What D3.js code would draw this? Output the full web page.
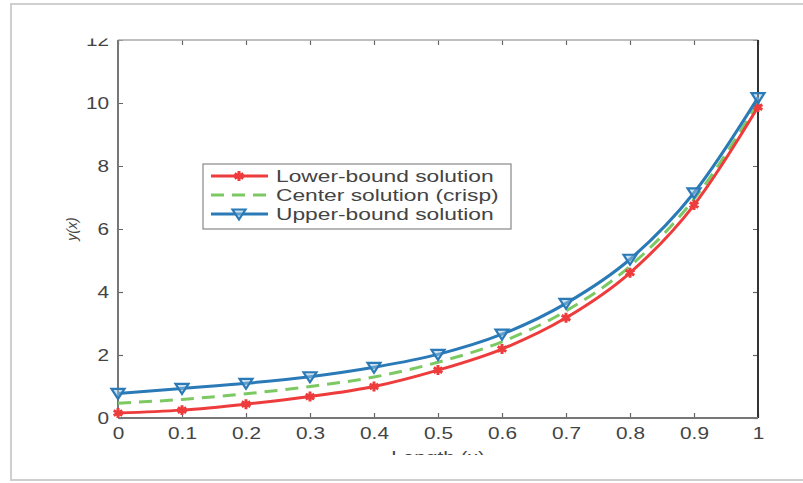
<!DOCTYPE html>
<html lang="en">
<head>
  <meta charset="UTF-8">
  <title>Lower, center and upper bound solutions</title>
  <script src="https://d3js.org/d3.v7.min.js"></script>
  <style>
    body { margin: 0; background: #fff; }
    svg { display: block; font-family: "Liberation Sans", Arial, sans-serif; }
  </style>
</head>
<body>
<svg width="803" height="483"></svg>
<script>
  // Données
  const xValues = [0, 0.1, 0.2, 0.3, 0.4, 0.5, 0.6, 0.7, 0.8, 0.9, 1];
  const lowerBound = [0.16, 0.25, 0.44, 0.68, 1.0, 1.52, 2.19, 3.18, 4.61, 6.76, 9.87];
  const center = [0.47, 0.59, 0.77, 1.0, 1.3, 1.77, 2.42, 3.4, 4.82, 6.95, 10.0];
  const upperBound = [0.78, 0.94, 1.1, 1.31, 1.61, 2.02, 2.66, 3.64, 5.04, 7.15, 10.17];
  const xTicks = [0, 0.1, 0.2, 0.3, 0.4, 0.5, 0.6, 0.7, 0.8, 0.9, 1];
  const yTicks = [0, 2, 4, 6, 8, 10, 12];
  const seriesNames = ["Lower-bound solution", "Center solution (crisp)", "Upper-bound solution"];

  const red = "#ee3b3b", green = "#7cc964", blue = "#2a7ab8", textColor = "#444";
  const stretch = 1.3;   // la figure d'origine est étirée horizontalement

  const svg = d3.select("svg");

  // cadre extérieur
  svg.append("rect")
    .attr("x", 11).attr("y", 4).attr("width", 800).attr("height", 476)
    .attr("fill", "none").attr("stroke", "#cfcfcf").attr("stroke-width", 2);

  svg.append("clipPath").attr("id", "crop")
    .append("rect").attr("x", 12).attr("y", 38.5).attr("width", 791).attr("height", 416.5);

  const root = svg.append("g").attr("clip-path", "url(#crop)");

  const margin = {left: 118, top: 40, right: 758, bottom: 418};
  const x = d3.scaleLinear().domain([0, 1]).range([margin.left, margin.right]);
  const y = d3.scaleLinear().domain([0, 12]).range([margin.bottom, margin.top]);

  // Axes
  const xAxis = root.append("g")
    .attr("transform", `translate(0,${margin.bottom})`)
    .call(d3.axisBottom(x).tickValues(xTicks).tickFormat(d3.format("~g")).tickSize(-5).tickPadding(10));
  const yAxis = root.append("g")
    .attr("transform", `translate(${margin.left},0)`)
    .call(d3.axisLeft(y).tickValues(yTicks).tickSize(-5).tickPadding(9));
  const xTop = root.append("g")
    .attr("transform", `translate(0,${margin.top})`)
    .call(d3.axisTop(x).tickValues(xTicks).tickSize(-5).tickFormat(""));
  const yRight = root.append("g")
    .attr("transform", `translate(${margin.right},0)`)
    .call(d3.axisRight(y).tickValues(yTicks).tickSize(-5).tickFormat(""));

  [xAxis, yAxis, xTop, yRight].forEach(a => {
    a.select(".domain").remove();
    a.selectAll("line").attr("stroke", "#666").attr("stroke-width", 1.2);
  });
  xAxis.selectAll("text")
    .attr("fill", textColor).style("font-size", "16px")
    .attr("transform", `scale(${stretch},1)`);
  yAxis.selectAll("text")
    .attr("fill", textColor).style("font-size", "16px")
    .attr("x", -9 / stretch)
    .attr("transform", `scale(${stretch},1)`);

  // boîte
  root.append("line").attr("x1", margin.left).attr("x2", margin.right)
    .attr("y1", margin.top).attr("y2", margin.top)
    .attr("stroke", "#aaa").attr("stroke-width", 1.5);
  root.append("line").attr("x1", margin.right).attr("x2", margin.right)
    .attr("y1", margin.top).attr("y2", margin.bottom)
    .attr("stroke", "#333").attr("stroke-width", 2);
  root.append("line").attr("x1", margin.left).attr("x2", margin.left)
    .attr("y1", margin.top).attr("y2", margin.bottom)
    .attr("stroke", "#777").attr("stroke-width", 2);
  root.append("line").attr("x1", margin.left).attr("x2", margin.right)
    .attr("y1", margin.bottom).attr("y2", margin.bottom)
    .attr("stroke", "#777").attr("stroke-width", 2);

  // Libellés des axes
  root.append("text")
    .attr("transform", `translate(${(margin.left + margin.right) / 2},463) scale(${stretch},1)`)
    .attr("text-anchor", "middle").attr("fill", textColor).style("font-size", "16px")
    .text("Length (x)");
  root.append("text")
    .attr("transform", "translate(77,229) rotate(-90)")
    .attr("text-anchor", "middle").attr("fill", textColor)
    .style("font-size", "14px").style("font-style", "italic")
    .text("y(x)");

  // Courbes
  const line = d3.line()
    .x((d, i) => x(xValues[i]))
    .y(d => y(d))
    .curve(d3.curveMonotoneX);

  const tri = "M-6.5,-4.5L6.5,-4.5L0,5.5Z";
  const star = d3.symbol().type(d3.symbolAsterisk).size(70);

  root.append("path").datum(center)
    .attr("d", line).attr("fill", "none")
    .attr("stroke", green).attr("stroke-width", 3).attr("stroke-dasharray", "13,8");

  root.append("path").datum(lowerBound)
    .attr("d", line).attr("fill", "none")
    .attr("stroke", red).attr("stroke-width", 3);
  root.selectAll(".lower-mark")
    .data(lowerBound)
    .join("path")
      .attr("class", "lower-mark")
      .attr("transform", (d, i) => `translate(${x(xValues[i])},${y(d)})`)
      .attr("d", star)
      .attr("fill", "none").attr("stroke", red).attr("stroke-width", 3);

  root.append("path").datum(upperBound)
    .attr("d", line).attr("fill", "none")
    .attr("stroke", blue).attr("stroke-width", 3);
  root.selectAll(".upper-mark")
    .data(upperBound)
    .join("path")
      .attr("class", "upper-mark")
      .attr("transform", (d, i) => `translate(${x(xValues[i])},${y(d)})`)
      .attr("d", tri)
      .attr("fill", "#9cc3e0").attr("fill-opacity", 0.5)
      .attr("stroke", blue).attr("stroke-width", 2.2);

  // Légende
  const legend = root.append("g").attr("transform", "translate(203,164)");
  legend.append("rect")
    .attr("width", 308).attr("height", 65)
    .attr("fill", "#fff").attr("stroke", "#888").attr("stroke-width", 1.2);

  const colors = [red, green, blue];
  seriesNames.forEach((name, i) => {
    const row = legend.append("g").attr("transform", `translate(0,${12 + i * 19})`);
    row.append("line")
      .attr("x1", 8).attr("x2", 65)
      .attr("stroke", colors[i]).attr("stroke-width", 3)
      .attr("stroke-dasharray", i === 1 ? "13,8" : null);
    if (i === 0) {
      row.append("path").attr("transform", "translate(36,0)").attr("d", star)
        .attr("fill", "none").attr("stroke", red).attr("stroke-width", 3);
    }
    if (i === 2) {
      row.append("path").attr("transform", "translate(36,0)").attr("d", tri)
        .attr("fill", "#9cc3e0").attr("fill-opacity", 0.5)
        .attr("stroke", blue).attr("stroke-width", 2.2);
    }
    row.append("text")
      .attr("transform", `translate(73,6) scale(1.38,1)`)
      .attr("fill", textColor).style("font-size", "16.5px")
      .text(name);
  });
</script>
</body>
</html>
